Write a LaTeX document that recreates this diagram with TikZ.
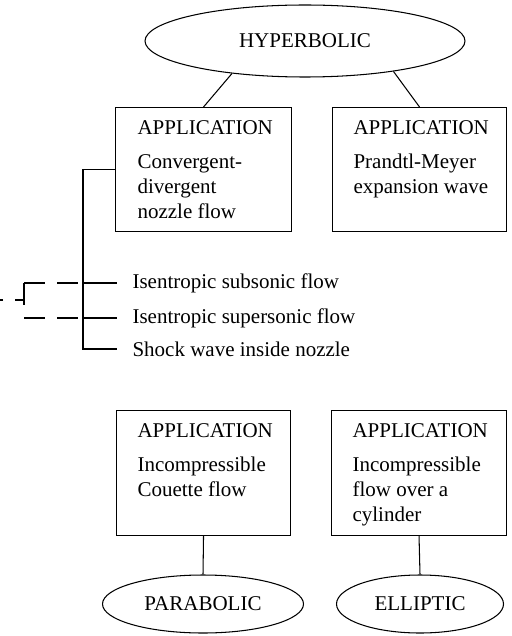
\documentclass[tikz,border=0pt]{standalone}
\usepackage{fontspec}
\setmainfont{Liberation Serif}
\usetikzlibrary{shapes.geometric,calc}
\begin{document}
\begin{tikzpicture}[x=1pt,y=-1pt,line width=1.05pt,
  every node/.style={font=\fontsize{21}{25}\selectfont},
  ell/.style={draw,ellipse,inner sep=0pt},
  appbox/.style={draw,rectangle,inner sep=0pt,anchor=north west},
  boxtext/.style={anchor=north west,inner sep=0pt,align=left},
  item/.style={anchor=west,inner xsep=15pt,inner ysep=0pt},
  dashA/.style={dash pattern=on 21pt off 12pt},
  dashB/.style={dash pattern=on 9pt off 12pt}]
\useasboundingbox (0,0) rectangle (511,636);
% top ellipse
\node[ell,minimum width=320pt,minimum height=72pt] (hyp) at (305,41) {HYPERBOLIC};
% boxes
\node[appbox,minimum width=176pt,minimum height=124pt] (b1) at (115,107) {};
\node[appbox,minimum width=174pt,minimum height=124pt] (b2) at (332,107) {};
\node[appbox,minimum width=174pt,minimum height=125pt] (b3) at (116,410) {};
\node[appbox,minimum width=175pt,minimum height=125pt] (b4) at (331,410) {};
\node[boxtext] (t1) at ($(b1.north west)+(22,13)$) {APPLICATION\\[9pt]Convergent-\\divergent\\nozzle flow};
\node[boxtext] (t2) at ($(b2.north west)+(21,13)$) {APPLICATION\\[9pt]Prandtl-Meyer\\expansion wave};
\node[boxtext] (t3) at ($(b3.north west)+(21,13)$) {APPLICATION\\[9pt]Incompressible\\Couette flow};
\node[boxtext] (t4) at ($(b4.north west)+(21,13)$) {APPLICATION\\[9pt]Incompressible\\flow over a\\cylinder};
% bottom ellipses
\node[ell,minimum width=201pt,minimum height=58pt] (par) at (203,604) {PARABOLIC};
\node[ell,minimum width=167pt,minimum height=58pt] (elp) at (420,604) {ELLIPTIC};
% connectors
\draw (b1.north) -- (hyp.204);
\draw (b2.north) -- (hyp.341);
\draw (b3.south) -- (par.north);
\draw (b4.south) -- (elp.north);
% items
\node[item] (i1) at (117,283) {Isentropic subsonic flow};
\node[item] (i2) at (117,318) {Isentropic supersonic flow};
\node[item] (i3) at (117,349) {Shock wave inside nozzle};
\coordinate (sp) at ($(b1.west)+(-32,0)$);
\draw (b1.west) -- (sp) |- (i3.west);
\draw (sp |- i1.west) -- (i1.west);
\draw (sp |- i2.west) -- (i2.west);
% dashed
\coordinate (d1) at (24,283);
\coordinate (d2) at (24,318);
\coordinate (d3) at (24,305);
\coordinate (d4) at (24,300);
\coordinate (d5) at (0,300);
\draw[dashA] (d1) -- (sp |- i1.west);
\draw[dashA] (d2) -- (sp |- i2.west);
\draw (d1) -- (d3);
\draw[dashB] (d4) -- (d5);
\end{tikzpicture}
\end{document}
